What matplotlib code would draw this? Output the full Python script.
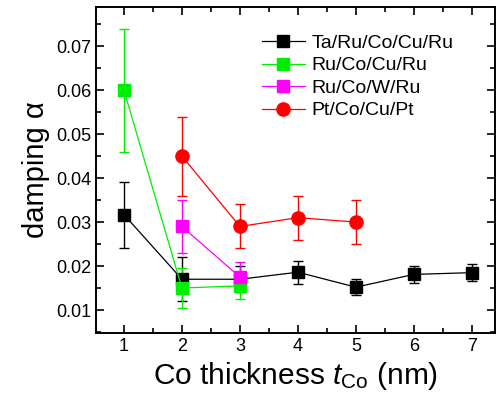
import matplotlib.pyplot as plt
from matplotlib.ticker import MultipleLocator

plt.rcParams['font.family'] = ['Liberation Sans', 'DejaVu Sans']
plt.rcParams['mathtext.fontset'] = 'custom'
plt.rcParams['mathtext.rm'] = 'Liberation Sans'
plt.rcParams['mathtext.it'] = 'Liberation Sans:italic'

# Ta/Ru/Co/Cu/Ru
ta_x = [1, 2, 3, 4, 5, 6, 7]
ta_y = [0.0317, 0.0170, 0.0170, 0.0186, 0.0152, 0.0181, 0.0185]
ta_lo = [0.0240, 0.0120, 0.0140, 0.0160, 0.0135, 0.0162, 0.0165]
ta_hi = [0.0390, 0.0220, 0.0200, 0.0212, 0.0170, 0.0200, 0.0205]

# Ru/Co/Cu/Ru
rcc_x = [1, 2, 3]
rcc_y = [0.0600, 0.0150, 0.0155]
rcc_lo = [0.0460, 0.0105, 0.0125]
rcc_hi = [0.0740, 0.0195, 0.0185]

# Ru/Co/W/Ru
rcw_x = [2, 3]
rcw_y = [0.0290, 0.0175]
rcw_lo = [0.0230, 0.0140]
rcw_hi = [0.0350, 0.0210]

# Pt/Co/Cu/Pt
pt_x = [2, 3, 4, 5]
pt_y = [0.0450, 0.0290, 0.0310, 0.0300]
pt_lo = [0.0360, 0.0240, 0.0260, 0.0250]
pt_hi = [0.0540, 0.0340, 0.0360, 0.0350]

series = [
    ('Ta/Ru/Co/Cu/Ru', ta_x, ta_y, ta_lo, ta_hi, 'black', 's', 8),
    ('Ru/Co/Cu/Ru', rcc_x, rcc_y, rcc_lo, rcc_hi, '#00ee00', 's', 8),
    ('Ru/Co/W/Ru', rcw_x, rcw_y, rcw_lo, rcw_hi, '#ff00ff', 's', 8),
    ('Pt/Co/Cu/Pt', pt_x, pt_y, pt_lo, pt_hi, 'red', 'o', 9.5),
]

fig = plt.figure(figsize=(4.98, 4.12), dpi=100)
ax = fig.add_axes([0.193, 0.192, 0.801, 0.791])

handles = []
for label, x, y, lo, hi, c, m, ms in series:
    err = [[v - l for v, l in zip(y, lo)], [h - v for v, h in zip(y, hi)]]
    eb = ax.errorbar(x, y, yerr=err, color=c, marker=m, markersize=ms,
                     lw=0.9, elinewidth=1.0, capsize=3.5, capthick=1.0,
                     markeredgecolor=c)
    eb[0].set_label(label)
    handles.append(eb[0])

ax.set_xlim(0.52, 7.4)
ax.set_ylim(0.0048, 0.0789)
ax.xaxis.set_major_locator(MultipleLocator(1))
ax.xaxis.set_minor_locator(MultipleLocator(0.5))
ax.yaxis.set_major_locator(MultipleLocator(0.01))
ax.yaxis.set_minor_locator(MultipleLocator(0.005))
ax.tick_params(which='both', direction='in', top=True, right=True,
               labelsize=13, width=1.2)
ax.tick_params(which='major', length=6)
ax.tick_params(which='minor', length=3.5)
for s in ax.spines.values():
    s.set_linewidth(1.4)

ax.set_xlabel(r'Co thickness $\mathit{t}_{\mathrm{Co}}$ (nm)', fontsize=21.5)
ax.set_ylabel('damping α', fontsize=21)

ax.legend(handles=handles, loc='upper right', bbox_to_anchor=(0.94, 0.97),
          frameon=False, fontsize=14, handlelength=2.2, handletextpad=0.35,
          labelspacing=0.25)

fig.savefig('out.png', dpi=100)
